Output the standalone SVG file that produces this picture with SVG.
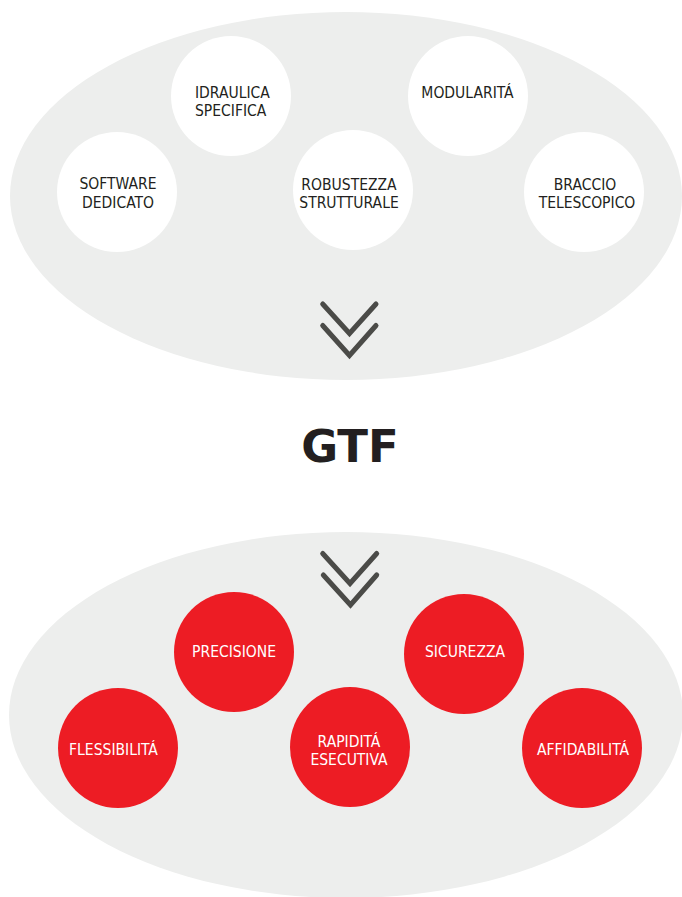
<svg xmlns="http://www.w3.org/2000/svg" width="682" height="897" viewBox="0 0 682 897">
<style>
.bg{fill:#edeeed}
.wc{fill:#ffffff}
.rc{fill:#ed1c24}
.lbl{font-family:"DejaVu Sans Condensed","DejaVu Sans",sans-serif;font-stretch:condensed;font-size:15.5px;fill:#231f20;text-anchor:middle}
.lblw{font-family:"DejaVu Sans Condensed","DejaVu Sans",sans-serif;font-stretch:condensed;font-size:15.5px;fill:#ffffff;text-anchor:middle}
.chev{fill:none;stroke:#4b4b48;stroke-width:5;stroke-linecap:round;stroke-linejoin:miter}
.title{font-family:"DejaVu Sans",sans-serif;font-weight:bold;font-size:45px;fill:#231f20;text-anchor:middle}
</style>
<g id="top-group">
<ellipse class="bg" cx="346" cy="196" rx="336" ry="184"/>
</g>
<g id="bottom-group">
<ellipse class="bg" cx="346" cy="715" rx="337" ry="183"/>
</g>
<g id="n-software">
<circle class="wc" cx="117" cy="192" r="60"/>
<text class="lbl" x="118" y="189">SOFTWARE</text>
<text class="lbl" x="118" y="207.5">DEDICATO</text>
</g>
<g id="n-idraulica">
<circle class="wc" cx="231" cy="96" r="60"/>
<text class="lbl" x="195" y="97.5" style="text-anchor:start">IDRAULICA</text>
<text class="lbl" x="195" y="115.5" style="text-anchor:start">SPECIFICA</text>
</g>
<g id="n-robustezza">
<circle class="wc" cx="353" cy="190" r="60"/>
<text class="lbl" x="349" y="190">ROBUSTEZZA</text>
<text class="lbl" x="349" y="208">STRUTTURALE</text>
</g>
<g id="n-modularita">
<circle class="wc" cx="468" cy="96" r="60"/>
<text class="lbl" x="467.5" y="98">MODULARITÁ</text>
</g>
<g id="n-braccio">
<circle class="wc" cx="584" cy="192" r="60"/>
<text class="lbl" x="585" y="190">BRACCIO</text>
<text class="lbl" x="587" y="208">TELESCOPICO</text>
</g>
<g id="n-gtf">
<text class="title" x="350" y="462">GTF</text>
</g>
<g id="n-precisione">
<circle class="rc" cx="234" cy="652" r="60"/>
<text class="lblw" x="234" y="657">PRECISIONE</text>
</g>
<g id="n-sicurezza">
<circle class="rc" cx="464" cy="654" r="60"/>
<text class="lblw" x="465" y="657">SICUREZZA</text>
</g>
<g id="n-flessibilita">
<circle class="rc" cx="118" cy="748" r="60"/>
<text class="lblw" x="113.5" y="755">FLESSIBILITÁ</text>
</g>
<g id="n-rapidita">
<circle class="rc" cx="350" cy="747" r="60"/>
<text class="lblw" x="349" y="746.5">RAPIDITÁ</text>
<text class="lblw" x="349" y="765">ESECUTIVA</text>
</g>
<g id="n-affidabilita">
<circle class="rc" cx="582" cy="748" r="60"/>
<text class="lblw" x="583" y="755">AFFIDABILITÁ</text>
</g>
<g id="connectors">
<path class="chev" d="M322.7 304 L349.5 333.5 L376 304"/>
<path class="chev" d="M322.7 325.5 L349.5 355.5 L376 325.5"/>
<path class="chev" d="M322.7 553.5 L350 583.5 L376.7 553.5"/>
<path class="chev" d="M323.3 575 L350.5 605 L376.7 575"/>
</g>
</svg>
